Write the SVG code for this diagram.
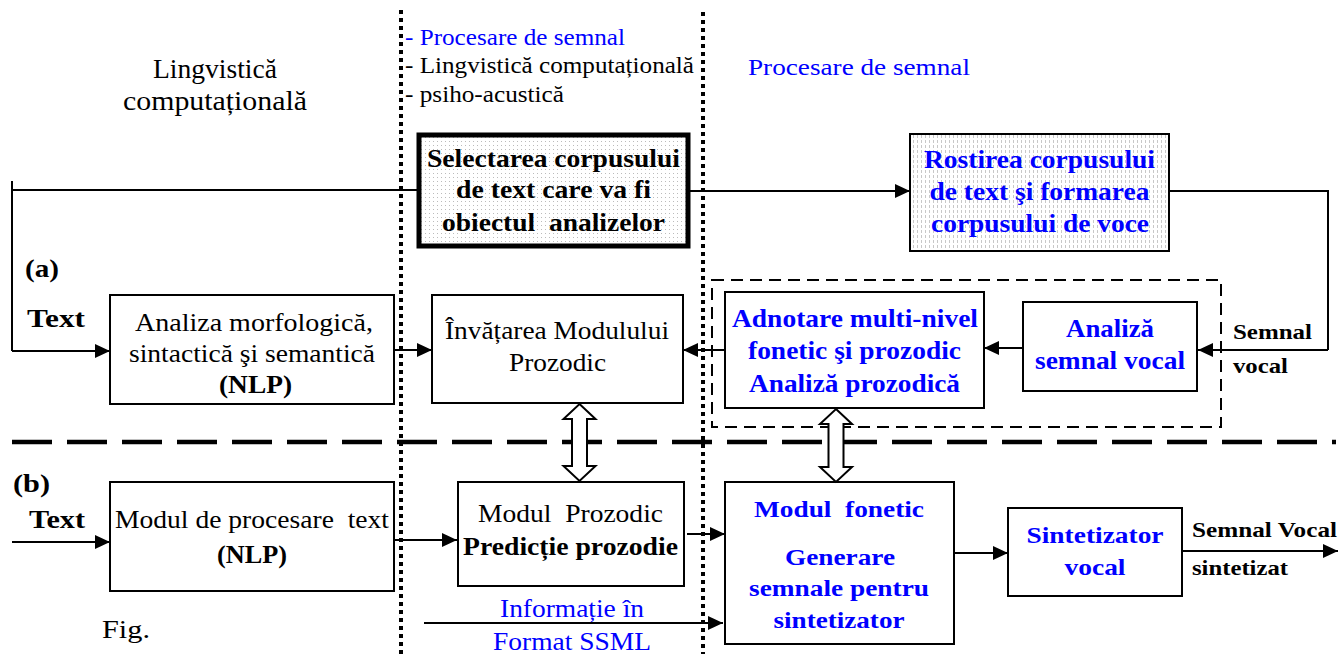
<svg xmlns="http://www.w3.org/2000/svg" width="1340" height="654" viewBox="0 0 1340 654">
<defs>
<style>
text{font-family:"Liberation Serif","Times New Roman",serif;fill:#000;white-space:pre}
.b{font-weight:bold}
.blue{fill:#0000ff}
.m{text-anchor:middle}
.box{fill:#fff;stroke:#000;stroke-width:2}
.ln{fill:none;stroke:#000;stroke-width:2}
.arr{marker-end:url(#ah)}
.dot{stroke:#000;stroke-width:4;stroke-dasharray:4 4;fill:none}
.dbl{fill:#fff;stroke:#000;stroke-width:2;stroke-linejoin:miter}
</style>
<marker id="ah" markerUnits="userSpaceOnUse" markerWidth="15" markerHeight="14" refX="15" refY="7" orient="auto"><path d="M0,0 L15,7 L0,14 z" fill="#000"/></marker>
<pattern id="dots" width="4" height="4" patternUnits="userSpaceOnUse"><rect width="4" height="4" fill="#fff"/><rect x="1" y="1" width="1" height="1" fill="#bbb"/></pattern>
<pattern id="vl" width="4" height="5" patternUnits="userSpaceOnUse"><rect width="4" height="5" fill="#fff"/><rect x="1" y="0" width="1" height="3" fill="#c8c8c8"/></pattern>
</defs>
<rect width="1340" height="654" fill="#fff"/>

<g id="background">
<line class="dot" x1="401" y1="10" x2="401" y2="654"/>
<line class="dot" x1="703" y1="12" x2="703" y2="654"/>
<line x1="12" y1="442" x2="1336" y2="442" stroke="#000" stroke-width="4.5" stroke-dasharray="40 15"/>
<rect x="712" y="280" width="509" height="147" fill="none" stroke="#000" stroke-width="2" stroke-dasharray="12 7"/>
</g>

<g id="labels">
<text class="m" x="215" y="78" font-size="27" textLength="124" lengthAdjust="spacingAndGlyphs">Lingvistică</text>
<text class="m" x="215" y="110" font-size="27" textLength="184" lengthAdjust="spacingAndGlyphs">computațională</text>
<text class="blue" x="405" y="45" font-size="23" textLength="220" lengthAdjust="spacingAndGlyphs">- Procesare de semnal</text>
<text x="405" y="73" font-size="23" textLength="289" lengthAdjust="spacingAndGlyphs">- Lingvistică computațională</text>
<text x="405" y="102" font-size="23" textLength="159" lengthAdjust="spacingAndGlyphs">- psiho-acustică</text>
<text class="blue" x="748" y="75" font-size="24" textLength="222" lengthAdjust="spacingAndGlyphs">Procesare de semnal</text>
<text class="b" x="25" y="277" font-size="25" textLength="34" lengthAdjust="spacingAndGlyphs">(a)</text>
<text class="b" x="27" y="327" font-size="25" textLength="58" lengthAdjust="spacingAndGlyphs">Text</text>
<text class="b" x="13" y="492" font-size="25" textLength="37" lengthAdjust="spacingAndGlyphs">(b)</text>
<text class="b" x="29" y="528" font-size="25" textLength="56" lengthAdjust="spacingAndGlyphs">Text</text>
<text class="b" x="1233" y="339" font-size="22" textLength="79" lengthAdjust="spacingAndGlyphs">Semnal</text>
<text class="b" x="1233" y="373" font-size="22" textLength="55" lengthAdjust="spacingAndGlyphs">vocal</text>
<text class="b" x="1192" y="537" font-size="22" textLength="145" lengthAdjust="spacingAndGlyphs">Semnal Vocal</text>
<text class="b" x="1192" y="575" font-size="22" textLength="96" lengthAdjust="spacingAndGlyphs">sintetizat</text>
<text class="blue m" x="572" y="617" font-size="25" textLength="144" lengthAdjust="spacingAndGlyphs">Informație în</text>
<text class="blue m" x="572" y="650" font-size="25" textLength="158" lengthAdjust="spacingAndGlyphs">Format SSML</text>
<text x="102" y="638" font-size="25" textLength="48" lengthAdjust="spacingAndGlyphs">Fig.</text>
</g>

<g id="connectors">
<path class="ln" d="M12,181 V351"/>
<path class="ln" d="M12,190 H417"/>
<path class="ln arr" d="M12,351 H110"/>
<path class="ln arr" d="M689,191 H910"/>
<path class="ln" d="M1169,191 H1328 V350"/>
<path class="ln arr" d="M1328,350 H1198"/>
<path class="ln arr" d="M1023,348 H984"/>
<path class="ln arr" d="M726,350 H683"/>
<path class="ln arr" d="M394,350 H432"/>
<path class="ln arr" d="M12,542 H110"/>
<path class="ln arr" d="M394,540 H457"/>
<path class="ln arr" d="M687,534 H725"/>
<path class="ln arr" d="M424,623 H723"/>
<path class="ln arr" d="M951,553 H1008"/>
<path class="ln arr" d="M1182,551 H1338"/>
</g>

<g id="selectarea">
<rect x="419" y="135" width="269" height="111" fill="url(#dots)" stroke="#000" stroke-width="5"/>
<text class="b m" x="553.5" y="167" font-size="26" textLength="253" lengthAdjust="spacingAndGlyphs">Selectarea corpusului</text>
<text class="b m" x="553.5" y="198" font-size="26" textLength="195" lengthAdjust="spacingAndGlyphs">de text care va fi</text>
<text class="b m" x="553.5" y="231" font-size="26" textLength="223" lengthAdjust="spacingAndGlyphs">obiectul  analizelor</text>
</g>

<g id="rostirea">
<rect x="910" y="134" width="259" height="117" fill="url(#vl)" stroke="#000" stroke-width="2"/>
<text class="b blue m" x="1039.5" y="168" font-size="26" textLength="231" lengthAdjust="spacingAndGlyphs">Rostirea corpusului</text>
<text class="b blue m" x="1039.5" y="200" font-size="26" textLength="220" lengthAdjust="spacingAndGlyphs">de text şi formarea</text>
<text class="b blue m" x="1040" y="232" font-size="26" textLength="218" lengthAdjust="spacingAndGlyphs">corpusului de voce</text>
</g>

<g id="analiza">
<rect class="box" x="110" y="295" width="284" height="109"/>
<text class="m" x="254" y="331" font-size="25" textLength="238" lengthAdjust="spacingAndGlyphs">Analiza morfologică,</text>
<text class="m" x="252" y="362" font-size="25" textLength="246" lengthAdjust="spacingAndGlyphs">sintactică şi semantică</text>
<text class="b m" x="255.5" y="393" font-size="25" textLength="73" lengthAdjust="spacingAndGlyphs">(NLP)</text>
</g>

<g id="invatarea">
<rect class="box" x="432" y="295" width="251" height="108"/>
<text class="m" x="557" y="339" font-size="25" textLength="224" lengthAdjust="spacingAndGlyphs">Învățarea Modulului</text>
<text class="m" x="557.5" y="371" font-size="25" textLength="97" lengthAdjust="spacingAndGlyphs">Prozodic</text>
</g>

<g id="adnotare">
<rect class="box" x="725" y="292" width="259" height="116"/>
<text class="b blue m" x="855" y="327" font-size="25" textLength="246" lengthAdjust="spacingAndGlyphs">Adnotare multi-nivel</text>
<text class="b blue m" x="854.5" y="359" font-size="25" textLength="213" lengthAdjust="spacingAndGlyphs">fonetic şi prozodic</text>
<text class="b blue m" x="854.5" y="392" font-size="25" textLength="211" lengthAdjust="spacingAndGlyphs">Analiză prozodică</text>
</g>

<g id="analiza-semnal">
<rect class="box" x="1023" y="302" width="174" height="89"/>
<text class="b blue m" x="1110" y="337" font-size="25" textLength="88" lengthAdjust="spacingAndGlyphs">Analiză</text>
<text class="b blue m" x="1110" y="369" font-size="25" textLength="150" lengthAdjust="spacingAndGlyphs">semnal vocal</text>
</g>

<g id="modul-procesare">
<rect class="box" x="110" y="482" width="284" height="109"/>
<text class="m" x="252" y="528" font-size="25" textLength="274" lengthAdjust="spacingAndGlyphs">Modul de procesare  text</text>
<text class="b m" x="252" y="563" font-size="25" textLength="70" lengthAdjust="spacingAndGlyphs">(NLP)</text>
</g>

<g id="modul-prozodic">
<rect class="box" x="458" y="482" width="226" height="104"/>
<text class="m" x="570.5" y="522" font-size="25" textLength="185" lengthAdjust="spacingAndGlyphs">Modul  Prozodic</text>
<text class="b m" x="570.5" y="555" font-size="25" textLength="215" lengthAdjust="spacingAndGlyphs">Predicție prozodie</text>
</g>

<g id="modul-fonetic">
<rect class="box" x="725" y="482" width="229" height="162"/>
<text class="b blue m" x="839" y="517" font-size="24" textLength="170" lengthAdjust="spacingAndGlyphs">Modul  fonetic</text>
<text class="b blue m" x="840" y="565" font-size="24" textLength="110" lengthAdjust="spacingAndGlyphs">Generare</text>
<text class="b blue m" x="839" y="596" font-size="24" textLength="180" lengthAdjust="spacingAndGlyphs">semnale pentru</text>
<text class="b blue m" x="839" y="628" font-size="24" textLength="131" lengthAdjust="spacingAndGlyphs">sintetizator</text>
</g>

<g id="sintetizator">
<rect class="box" x="1008" y="508" width="174" height="88"/>
<text class="b blue m" x="1095" y="543" font-size="24" textLength="137" lengthAdjust="spacingAndGlyphs">Sintetizator</text>
<text class="b blue m" x="1095" y="575" font-size="24" textLength="61" lengthAdjust="spacingAndGlyphs">vocal</text>
</g>

<g id="double-arrows">
<polygon class="dbl" points="579.5,404 595.5,419 587,419 587,466 595.5,466 579.5,481 563.5,466 572,466 572,419 563.5,419"/>
<polygon class="dbl" points="836,409 852,424 843.5,424 843.5,467 852,467 836,482 820,467 828.5,467 828.5,424 820,424"/>
</g>
</svg>
